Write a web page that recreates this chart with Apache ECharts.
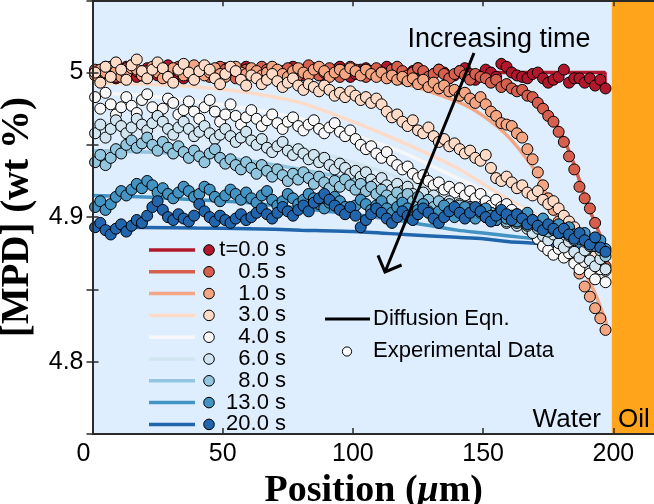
<!DOCTYPE html>
<html>
<head>
<meta charset="utf-8">
<script src="https://cdn.jsdelivr.net/npm/echarts@6/dist/echarts.min.js"></script>
<style>
  html, body { margin: 0; padding: 0; background: #ffffff; }
  #chart { width: 654px; height: 504px; }
</style>
</head>
<body>
<div id="chart"></div>
<script>
// Sampling positions of the measured profiles (µm)
const positions = [
  1, 3, 5, 7, 9, 11, 13, 15, 17, 19,
  21, 23, 25, 27, 29, 31, 33, 35, 37, 39,
  41, 43, 45, 47, 49, 51, 53, 55, 57, 59,
  61, 63, 65, 67, 69, 71, 73, 75, 77, 79,
  81, 83, 85, 87, 89, 91, 93, 95, 97, 99,
  101, 103, 105, 107, 109, 111, 113, 115, 117, 119,
  121, 123, 125, 127, 129, 131, 133, 135, 137, 139,
  141, 143, 145, 147, 149, 151, 153, 155, 157, 159,
  161, 163, 165, 167, 169, 171, 173, 175, 177, 179,
  181, 183, 185, 187, 189, 191, 193, 195, 197
];

const timeLabels = ['t=0.0 s', '0.5 s', '1.0 s', '3.0 s', '4.0 s', '6.0 s', '8.0 s', '13.0 s', '20.0 s'];
const timeColors = ['#b2182b', '#d6604d', '#f4a582', '#fddbc7', '#f7f7f7', '#d1e5f0', '#92c5de', '#4393c3', '#2166ac'];

// Measured MPD concentration (wt %) at each position, one array per time
const measured_t0 = [
  5.001, 4.998, 5.003, 5.000, 4.996, 5.002, 5.004, 4.999, 4.997, 5.001,
  5.003, 5.000, 4.998, 5.002, 5.005, 5.001, 4.998, 4.996, 5.000, 5.003,
  5.001, 4.999, 5.002, 4.997, 4.999, 5.003, 5.001, 4.998, 5.000, 5.004,
  5.002, 4.999, 4.997, 5.001, 5.003, 5.000, 4.998, 5.002, 5.004, 5.001,
  4.998, 5.000, 5.003, 5.001, 4.997, 4.999, 5.002, 5.004, 5.000, 4.997,
  4.999, 5.002, 5.003, 5.000, 4.998, 5.001, 5.004, 5.002, 4.999, 4.996,
  4.998, 5.001, 5.003, 5.000, 4.997, 4.999, 5.002, 5.000, 4.996, 4.998,
  5.001, 5.003, 4.999, 4.995, 4.998, 5.002, 5.000, 4.997, 5.006, 5.004,
  5.000, 4.998, 4.997, 4.996, 4.999, 5.000, 4.996, 4.993, 4.995, 4.997,
  5.002, 4.993, 4.996, 4.996, 4.993, 4.996, 4.991, 4.995, 4.989
];
const measured_t05 = [
  5.002, 4.999, 5.004, 5.001, 4.997, 5.000, 5.003, 5.005, 5.001, 4.998,
  5.000, 5.003, 5.001, 4.997, 4.999, 5.002, 5.004, 5.000, 4.998, 5.001,
  5.003, 5.000, 4.997, 5.001, 5.004, 5.002, 4.999, 4.996, 5.000, 5.002,
  4.999, 5.001, 5.004, 5.002, 4.998, 4.997, 5.001, 5.003, 5.000, 4.998,
  5.002, 5.005, 5.001, 4.998, 5.000, 5.003, 4.999, 4.997, 5.001, 5.004,
  5.002, 4.999, 4.997, 5.001, 5.003, 5.000, 4.998, 5.002, 5.004, 5.001,
  4.998, 5.000, 5.003, 5.001, 4.997, 4.999, 5.002, 4.999, 4.996, 4.999,
  5.001, 4.998, 4.995, 4.999, 4.997, 4.996, 4.993, 4.995, 4.990, 4.992,
  4.989, 4.987, 4.988, 4.984, 4.983, 4.979, 4.975, 4.970, 4.966, 4.959,
  4.952, 4.942, 4.933, 4.921, 4.913, 4.906, 4.896, 4.881, 4.866
];
const measured_t1 = [
  4.998, 5.002, 5.000, 5.004, 5.001, 4.997, 4.999, 5.003, 5.002, 4.998,
  5.001, 5.004, 5.000, 4.996, 5.000, 5.003, 5.001, 4.998, 5.002, 5.005,
  5.001, 4.998, 5.000, 5.003, 4.999, 4.997, 5.002, 5.004, 5.000, 4.999,
  5.003, 5.001, 4.998, 5.000, 5.004, 5.002, 4.999, 4.997, 5.001, 5.003,
  5.000, 4.998, 5.002, 5.004, 5.001, 4.997, 5.000, 5.002, 4.999, 5.003,
  5.001, 4.998, 5.002, 4.999, 4.997, 5.000, 4.996, 4.998, 4.995, 4.997,
  4.994, 4.996, 4.992, 4.995, 4.990, 4.993, 4.989, 4.991, 4.987, 4.988,
  4.984, 4.986, 4.982, 4.979, 4.983, 4.978, 4.973, 4.970, 4.965, 4.964,
  4.963, 4.958, 4.955, 4.947, 4.940, 4.931, 4.922, 4.913, 4.905, 4.897,
  4.890, 4.881, 4.872, 4.861, 4.852, 4.845, 4.837, 4.830, 4.822
];
const measured_t3 = [
  5.000, 4.993, 5.004, 4.997, 5.007, 5.002, 4.995, 5.005, 5.009, 5.001,
  4.996, 5.002, 5.007, 5.003, 4.997, 4.993, 5.002, 5.006, 5.000, 4.995,
  5.001, 5.005, 5.002, 4.996, 4.992, 4.999, 5.004, 5.001, 4.995, 4.991,
  4.998, 4.996, 4.992, 4.995, 4.999, 4.994, 4.990, 4.993, 4.996, 4.991,
  4.988, 4.992, 4.990, 4.987, 4.991, 4.988, 4.984, 4.986, 4.983, 4.987,
  4.984, 4.981, 4.983, 4.979, 4.982, 4.978, 4.973, 4.969, 4.971, 4.966,
  4.963, 4.967, 4.960, 4.958, 4.962, 4.956, 4.952, 4.954, 4.949, 4.951,
  4.947, 4.944, 4.946, 4.941, 4.939, 4.943, 4.934, 4.927, 4.925, 4.928,
  4.924, 4.920, 4.922, 4.917, 4.915, 4.918, 4.912, 4.909, 4.911, 4.906,
  4.901, 4.897, 4.893, 4.888, 4.884, 4.879, 4.873, 4.869, 4.863
];
const measured_t4 = [
  4.983, 4.975, 4.986, 4.978, 4.971, 4.976, 4.983, 4.977, 4.972, 4.981,
  4.985, 4.976, 4.970, 4.975, 4.982, 4.979, 4.971, 4.974, 4.980, 4.973,
  4.968, 4.976, 4.981, 4.973, 4.966, 4.971, 4.978, 4.970, 4.964, 4.969,
  4.974, 4.968, 4.963, 4.967, 4.971, 4.965, 4.961, 4.966, 4.969, 4.963,
  4.960, 4.964, 4.967, 4.961, 4.958, 4.962, 4.965, 4.959, 4.956, 4.960,
  4.954, 4.950, 4.947, 4.949, 4.944, 4.941, 4.945, 4.939, 4.936, 4.933,
  4.935, 4.930, 4.927, 4.929, 4.925, 4.922, 4.924, 4.919, 4.921, 4.917,
  4.920, 4.915, 4.918, 4.913, 4.916, 4.911, 4.908, 4.912, 4.907, 4.909,
  4.905, 4.902, 4.898, 4.894, 4.889, 4.885, 4.880, 4.877, 4.874, 4.878,
  4.872, 4.875, 4.868, 4.864, 4.869, 4.861, 4.857, 4.864, 4.855
];
const measured_t6 = [
  4.958, 4.964, 4.955, 4.961, 4.967, 4.963, 4.958, 4.962, 4.968, 4.964,
  4.960, 4.965, 4.970, 4.966, 4.961, 4.957, 4.962, 4.966, 4.961, 4.956,
  4.959, 4.963, 4.958, 4.954, 4.957, 4.961, 4.956, 4.952, 4.955, 4.959,
  4.953, 4.950, 4.954, 4.948, 4.945, 4.949, 4.952, 4.946, 4.943, 4.947,
  4.944, 4.940, 4.943, 4.938, 4.941, 4.936, 4.933, 4.937, 4.934, 4.930,
  4.932, 4.928, 4.931, 4.926, 4.923, 4.927, 4.922, 4.919, 4.923, 4.918,
  4.921, 4.916, 4.913, 4.917, 4.912, 4.915, 4.910, 4.907, 4.911, 4.906,
  4.909, 4.904, 4.907, 4.902, 4.905, 4.900, 4.903, 4.898, 4.901, 4.896,
  4.899, 4.894, 4.897, 4.892, 4.889, 4.893, 4.887, 4.884, 4.888, 4.882,
  4.879, 4.883, 4.876, 4.872, 4.877, 4.870, 4.866, 4.871, 4.864
];
const measured_t8 = [
  4.938, 4.943, 4.936, 4.941, 4.947, 4.944, 4.950, 4.953, 4.948, 4.951,
  4.955, 4.950, 4.946, 4.952, 4.948, 4.944, 4.949, 4.945, 4.941, 4.946,
  4.942, 4.938, 4.944, 4.947, 4.941, 4.937, 4.940, 4.936, 4.933, 4.938,
  4.934, 4.930, 4.936, 4.932, 4.928, 4.933, 4.929, 4.925, 4.930, 4.926,
  4.931, 4.927, 4.923, 4.928, 4.924, 4.920, 4.925, 4.921, 4.926, 4.922,
  4.919, 4.923, 4.918, 4.921, 4.916, 4.919, 4.915, 4.912, 4.917, 4.913,
  4.916, 4.911, 4.914, 4.909, 4.912, 4.907, 4.911, 4.906, 4.909, 4.905,
  4.908, 4.903, 4.906, 4.901, 4.904, 4.900, 4.903, 4.898, 4.901, 4.897,
  4.900, 4.896, 4.899, 4.894, 4.897, 4.892, 4.895, 4.890, 4.893, 4.889,
  4.892, 4.887, 4.884, 4.888, 4.883, 4.880, 4.884, 4.877, 4.873
];
const measured_t13 = [
  4.907, 4.911, 4.905, 4.909, 4.914, 4.918, 4.915, 4.919, 4.923, 4.920,
  4.925, 4.922, 4.917, 4.920, 4.916, 4.913, 4.917, 4.921, 4.918, 4.914,
  4.916, 4.921, 4.919, 4.914, 4.911, 4.915, 4.919, 4.916, 4.912, 4.917,
  4.913, 4.910, 4.915, 4.918, 4.912, 4.908, 4.911, 4.916, 4.913, 4.909,
  4.912, 4.916, 4.913, 4.909, 4.906, 4.910, 4.914, 4.911, 4.907, 4.904,
  4.908, 4.912, 4.909, 4.905, 4.908, 4.911, 4.906, 4.903, 4.907, 4.910,
  4.906, 4.902, 4.905, 4.909, 4.904, 4.901, 4.904, 4.908, 4.903, 4.900,
  4.904, 4.907, 4.902, 4.899, 4.903, 4.906, 4.901, 4.898, 4.902, 4.899,
  4.901, 4.897, 4.900, 4.903, 4.898, 4.895, 4.899, 4.894, 4.891, 4.895,
  4.890, 4.893, 4.888, 4.885, 4.889, 4.883, 4.880, 4.884, 4.878
];
const measured_t20 = [
  4.893, 4.896, 4.891, 4.888, 4.892, 4.895, 4.890, 4.894, 4.898, 4.896,
  4.901, 4.907, 4.911, 4.905, 4.900, 4.898, 4.902, 4.899, 4.897, 4.901,
  4.909, 4.904, 4.900, 4.897, 4.901, 4.898, 4.896, 4.899, 4.902, 4.898,
  4.900, 4.903, 4.906, 4.902, 4.899, 4.903, 4.907, 4.904, 4.901, 4.905,
  4.908, 4.904, 4.910, 4.913, 4.916, 4.912, 4.908, 4.905, 4.902, 4.907,
  4.901, 4.893, 4.898, 4.902, 4.906, 4.903, 4.899, 4.896, 4.900, 4.904,
  4.901, 4.898, 4.902, 4.906, 4.903, 4.899, 4.896, 4.900, 4.904, 4.907,
  4.903, 4.899, 4.903, 4.907, 4.904, 4.900, 4.897, 4.901, 4.905, 4.902,
  4.898, 4.902, 4.899, 4.895, 4.898, 4.894, 4.891, 4.895, 4.892, 4.889,
  4.892, 4.888, 4.885, 4.889, 4.884, 4.881, 4.886, 4.879, 4.876
];

// Diffusion-equation profiles, sampled at modelPositions (µm)
const modelPositions = [0, 20, 40, 60, 80, 100, 120, 140, 150, 160, 170, 175, 180, 185, 190, 193, 195, 197.5];
const model_t05 = [5.000, 5.000, 5.000, 5.000, 5.000, 5.000, 5.000, 4.999, 4.996, 4.990, 4.982, 4.973, 4.958, 4.936, 4.909, 4.896, 4.887, 4.875];
const model_t1  = [5.000, 5.000, 5.000, 4.9995, 4.999, 4.997, 4.992, 4.980, 4.970, 4.955, 4.932, 4.913, 4.895, 4.877, 4.859, 4.847, 4.838, 4.826];
const model_t3  = [4.993, 4.992, 4.990, 4.986, 4.979, 4.966, 4.951, 4.934, 4.923, 4.912, 4.902, 4.897, 4.892, 4.887, 4.883, 4.880, 4.878, 4.876];
const model_t4  = [4.986, 4.984, 4.980, 4.975, 4.968, 4.957, 4.944, 4.927, 4.919, 4.910, 4.901, 4.897, 4.892, 4.887, 4.883, 4.880, 4.878, 4.876];
const model_t6  = [4.966, 4.964, 4.961, 4.956, 4.948, 4.938, 4.926, 4.913, 4.907, 4.901, 4.895, 4.892, 4.889, 4.885, 4.882, 4.880, 4.878, 4.876];
const model_t8  = [4.946, 4.945, 4.943, 4.939, 4.933, 4.926, 4.918, 4.909, 4.904, 4.899, 4.894, 4.891, 4.888, 4.885, 4.882, 4.880, 4.878, 4.876];
const model_t13 = [4.915, 4.914, 4.912, 4.910, 4.906, 4.902, 4.897, 4.891, 4.889, 4.887, 4.885, 4.884, 4.882, 4.880, 4.879, 4.878, 4.877, 4.876];
const model_t20 = [4.893, 4.8928, 4.8924, 4.892, 4.891, 4.890, 4.888, 4.886, 4.885, 4.883, 4.882, 4.881, 4.880, 4.879, 4.878, 4.877, 4.877, 4.876];
// Initial step profile: uniform, cut off at the interface
const model_t0_x = [0, 196.8, 196.8];
const model_t0_y = [5.000, 5.000, 4.988];

// Axis ticks
const xTicks = [0, 50, 100, 150, 200];
const yTicks = [4.8, 4.9, 5];
const interfacePos = 199.4;

const measured = [measured_t0, measured_t05, measured_t1, measured_t3, measured_t4, measured_t6, measured_t8, measured_t13, measured_t20];
const modelY = [model_t0_y, model_t05, model_t1, model_t3, model_t4, model_t6, model_t8, model_t13, model_t20];

const chart = echarts.init(document.getElementById('chart'), null, { renderer: 'canvas' });

const pair = (xs, ys) => xs.map((x, i) => [x, ys[i]]);

const series = [];
// Water / oil regions
series.push({
  type: 'scatter', data: [], silent: true, z: 1,
  markArea: {
    silent: true,
    label: { show: false },
    data: [
      [{ xAxis: 0, itemStyle: { color: '#dfeeff' } }, { xAxis: interfacePos }],
      [{ xAxis: interfacePos, itemStyle: { color: '#ffa41b' } }, { xAxis: 216 }]
    ]
  }
});
// Diffusion-equation curves
modelY.forEach((ys, i) => {
  const xs = i === 0 ? model_t0_x : modelPositions;
  series.push({
    type: 'line', name: 'model ' + timeLabels[i], data: pair(xs, ys),
    showSymbol: false, symbol: 'none', smooth: i === 0 ? false : 0.25,
    lineStyle: { color: timeColors[i], width: 3.5 }, z: 2, silent: true
  });
});
// Measured profiles
measured.forEach((ys, i) => {
  series.push({
    type: 'scatter', name: timeLabels[i], data: pair(positions, ys),
    symbol: 'circle', symbolSize: 11,
    itemStyle: { color: timeColors[i], borderColor: '#000', borderWidth: 1, opacity: 1 },
    z: 3 + i * 0.01, silent: true
  });
});

// Legend drawn as graphic entries
const graphics = [];
const legendTop = 250, legendStep = 21.8;
timeLabels.forEach((lab, i) => {
  const y = legendTop + i * legendStep;
  graphics.push({ type: 'line', shape: { x1: 149, y1: y, x2: 195, y2: y }, style: { stroke: timeColors[i], lineWidth: 3.5 }, z: 100 });
  graphics.push({ type: 'circle', shape: { cx: 209, cy: y, r: 5.3 }, style: { fill: timeColors[i], stroke: '#000', lineWidth: 1 }, z: 100 });
  graphics.push({ type: 'text', style: { text: lab, x: 286, y: y, textAlign: 'right', textVerticalAlign: 'middle', font: '22px "Liberation Sans", Arial, sans-serif', fill: '#000' }, z: 100 });
});
graphics.push({ type: 'line', shape: { x1: 325, y1: 319, x2: 370, y2: 319 }, style: { stroke: '#000', lineWidth: 3 }, z: 100 });
graphics.push({ type: 'text', style: { text: 'Diffusion Eqn.', x: 373, y: 319, textAlign: 'left', textVerticalAlign: 'middle', font: '22px "Liberation Sans", Arial, sans-serif', fill: '#000' }, z: 100 });
graphics.push({ type: 'circle', shape: { cx: 347, cy: 351.5, r: 4.6 }, style: { fill: '#fff', stroke: '#000', lineWidth: 1 }, z: 100 });
graphics.push({ type: 'text', style: { text: 'Experimental Data', x: 373, y: 351, textAlign: 'left', textVerticalAlign: 'middle', font: '22px "Liberation Sans", Arial, sans-serif', fill: '#000' }, z: 100 });
// Time arrow
graphics.push({ type: 'text', style: { text: 'Increasing time', x: 499, y: 40, textAlign: 'center', textVerticalAlign: 'middle', font: '27px "Liberation Sans", Arial, sans-serif', fill: '#000' }, z: 100 });
graphics.push({ type: 'line', shape: { x1: 474, y1: 53, x2: 385, y2: 272 }, style: { stroke: '#000', lineWidth: 3 }, z: 100 });
graphics.push({ type: 'polyline', shape: { points: [[378, 255.4], [385, 272], [401.6, 265]] }, style: { stroke: '#000', lineWidth: 3, fill: null, lineJoin: 'miter' }, z: 100 });
// Region names
graphics.push({ type: 'text', style: { text: 'Water', x: 601, y: 420, textAlign: 'right', textVerticalAlign: 'middle', font: '26px "Liberation Sans", Arial, sans-serif', fill: '#000' }, z: 100 });
graphics.push({ type: 'text', style: { text: 'Oil', x: 618, y: 420, textAlign: 'left', textVerticalAlign: 'middle', font: '26px "Liberation Sans", Arial, sans-serif', fill: '#000' }, z: 100 });

const axisLineStyle = { color: '#2a2a2a', width: 1.8 };
const tickStyle = { show: true, inside: true, length: 6, lineStyle: { color: '#2a2a2a', width: 1.5 } };
const sansLabel = { fontFamily: '"Liberation Sans", Arial, sans-serif', fontSize: 25, color: '#000' };
const isMajorX = v => xTicks.indexOf(Math.round(v)) >= 0 && Math.abs(v - Math.round(v)) < 1e-6;
const yLabelOf = v => {
  const r = Math.round(v * 10) / 10;
  return (Math.abs(v - r) < 1e-6 && yTicks.indexOf(r) >= 0) ? String(r) : '';
};

chart.setOption({
  animation: false,
  backgroundColor: '#ffffff',
  grid: { left: 92.5, top: 0.25, width: 562.5, height: 433.75, show: false, containLabel: false, outerBoundsMode: 'none' },
  xAxis: [
    {
      type: 'value', min: 0, max: 216, interval: 50, position: 'bottom', z: 10,
      axisLine: { show: true, lineStyle: axisLineStyle },
      axisTick: tickStyle, splitLine: { show: false },
      axisLabel: Object.assign({}, sansLabel, {
        margin: 8, showMaxLabel: false,
        formatter: v => v === 0 ? '{z|0}' : (isMajorX(v) ? String(v) : ''),
        rich: { z: { fontFamily: '"Liberation Sans", Arial, sans-serif', fontSize: 25, color: '#000', padding: [0, 18, 0, 0] } }
      }),
      name: 'Position ({mu|μ}m)', nameLocation: 'middle', nameGap: 32,
      nameTextStyle: {
        fontFamily: '"Liberation Serif", "Times New Roman", serif', fontWeight: 'bold', fontSize: 38, color: '#000',
        rich: { mu: { fontFamily: '"Liberation Serif", "Times New Roman", serif', fontWeight: 'bold', fontStyle: 'italic', fontSize: 38, color: '#000' } }
      }
    },
    {
      type: 'value', min: 0, max: 216, interval: 50, position: 'top', z: 10,
      axisLine: { show: true, lineStyle: axisLineStyle },
      axisTick: tickStyle, axisLabel: { show: false }, splitLine: { show: false }
    }
  ],
  yAxis: [
    {
      type: 'value', min: 4.75, max: 5.05, interval: 0.05, position: 'left', z: 10,
      axisLine: { show: true, lineStyle: axisLineStyle },
      axisTick: tickStyle, splitLine: { show: false },
      axisLabel: Object.assign({}, sansLabel, { margin: 9, formatter: yLabelOf }),
      name: '[MPD] (wt %)', nameLocation: 'middle', nameRotate: 90, nameGap: 45,
      nameTextStyle: { fontFamily: '"Liberation Serif", "Times New Roman", serif', fontWeight: 'bold', fontSize: 39, color: '#000' }
    },
    {
      type: 'value', min: 4.75, max: 5.05, interval: 0.05, position: 'right', z: 10,
      axisLine: { show: true, lineStyle: axisLineStyle },
      axisTick: tickStyle, axisLabel: { show: false }, splitLine: { show: false }
    }
  ],
  series: series,
  graphic: graphics
});
</script>
</body>
</html>
